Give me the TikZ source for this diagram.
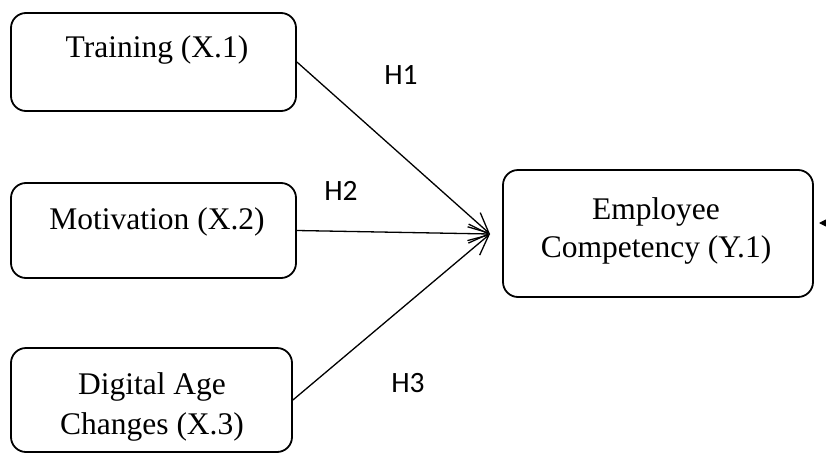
\documentclass[tikz,border=0pt]{standalone}
\usepackage{fontspec}
\setmainfont{Liberation Serif}
\newfontfamily\hfont{Carlito}
\usetikzlibrary{arrows.meta}
\begin{document}
\begin{tikzpicture}[x=1pt,y=-1pt,
  box/.style={draw, line width=1.8pt, rounded corners=15pt, inner sep=0pt},
  txt/.style={font=\fontsize{31.5}{40}\selectfont, inner sep=0pt, anchor=base},
  hyp/.style={font=\hfont\fontsize{29.5}{34}\selectfont, inner sep=0pt, anchor=base},
  link/.style={line width=1.3pt, -{Straight Barb[length=20pt,width=19pt]}}
]
\useasboundingbox (0,0) rectangle (826,455);
\clip (0,0) rectangle (826,455);

% boxes
\node[box, minimum width=285pt, minimum height=98pt]  (tr) at (153.5,62) {};
\node[box, minimum width=285pt, minimum height=95pt]  (mo) at (153.5,230.5) {};
\node[box, minimum width=281pt, minimum height=104pt] (dg) at (151.5,400) {};
\node[box, minimum width=310pt, minimum height=127pt] (em) at (658,233.5) {};

% texts
\node[txt] (trT)  at (157,57)  {Training (X.1)};
\node[txt] (moT)  at (157,229) {Motivation (X.2)};
\node[txt] (dgT1) at (152,394) {Digital Age};
\node[txt] (dgT2) at (152,434) {Changes (X.3)};
\node[txt] (emT1) at (656,219) {Employee};
\node[txt] (emT2) at (656,257) {Competency (Y.1)};

% hypothesis labels
\node[hyp] (h1) at (401,84)  {H1};
\node[hyp] (h2) at (341,200) {H2};
\node[hyp] (h3) at (408,392) {H3};

% connectors
\coordinate (tip) at (490,234);
\draw[link] (tr.east) -- (tip);
\draw[link] (mo.east) -- (tip);
\draw[link] (dg.east) -- (tip);

% error term arrow (cut at the right edge)
\coordinate (errStart) at (870,223);
\coordinate (errTip) at (819,223);
\draw[line width=1pt, -{Triangle[length=8pt,width=8pt]}] (errStart) -- (errTip);
\end{tikzpicture}
\end{document}
